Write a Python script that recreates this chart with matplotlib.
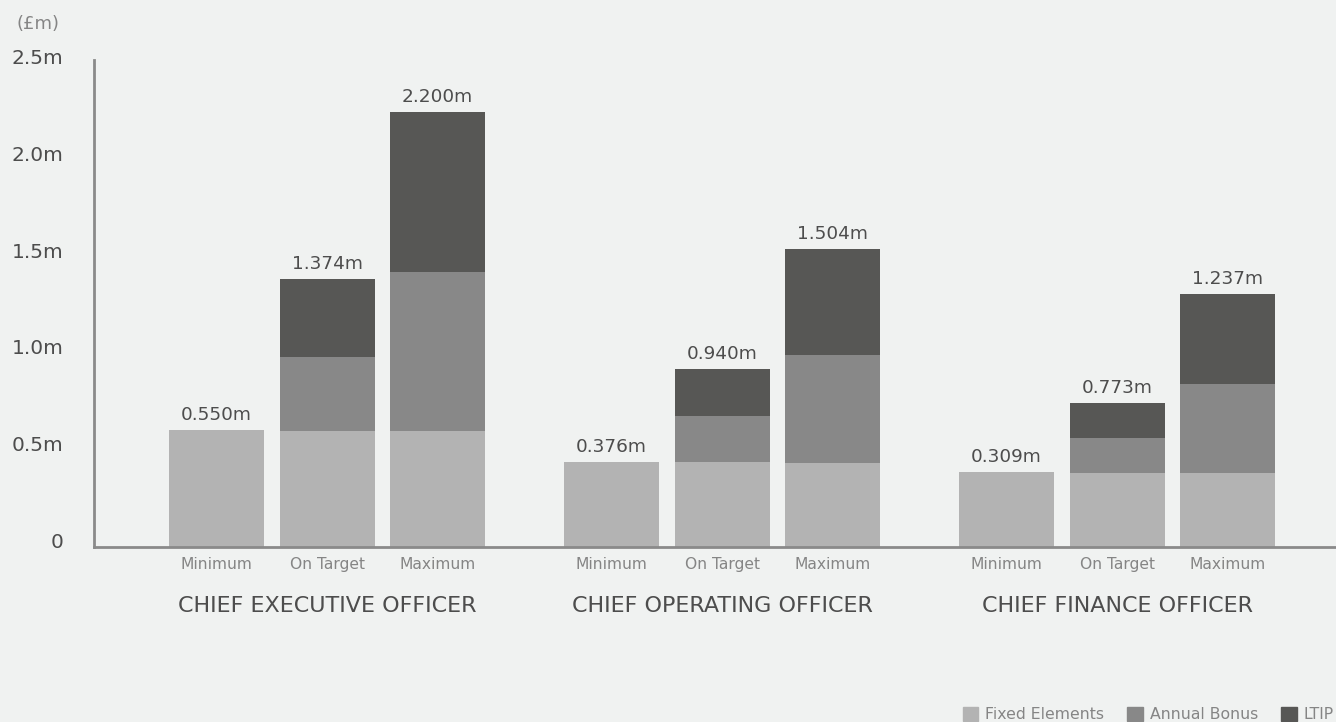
import matplotlib
matplotlib.use("Agg")
import matplotlib.pyplot as plt
import matplotlib.transforms as mtransforms
from matplotlib.patches import Patch
import numpy as np

# Values (£m) as drawn in the reference, one per bar: Minimum, On Target, Maximum
ROLES = ["CHIEF EXECUTIVE OFFICER", "CHIEF OPERATING OFFICER", "CHIEF FINANCE OFFICER"]
SCENARIOS = ["Minimum", "On Target", "Maximum"]
FIXED = [0.606, 0.600, 0.600, 0.440, 0.440, 0.435, 0.388, 0.383, 0.383]
BONUS = [0.0, 0.383, 0.823, 0.0, 0.238, 0.559, 0.0, 0.181, 0.461]
LTIP = [0.0, 0.404, 0.828, 0.0, 0.243, 0.549, 0.0, 0.181, 0.466]
TOTALS = ["0.550m", "1.374m", "2.200m", "0.376m", "0.940m", "1.504m",
          "0.309m", "0.773m", "1.237m"]
YTICKS = [0, 0.5, 1.0, 1.5, 2.0, 2.5]
YTICK_LABELS = ["0", "0.5m", "1.0m", "1.5m", "2.0m", "2.5m"]

BG = "#f0f2f1"
C_FIXED, C_BONUS, C_LTIP = "#b3b3b3", "#888888", "#575755"
DARK, GREY = "#4d4d4d", "#858585"

GROUP_STEP = 3.575
x = np.array([g * GROUP_STEP + j for g in range(3) for j in range(3)])
fixed, bonus, ltip = map(np.array, (FIXED, BONUS, LTIP))

fig = plt.figure(figsize=(13.36, 7.22), dpi=100, facecolor=BG)
ax = fig.add_axes([94 / 1336, 1 - 547 / 722, 1 - 94 / 1336, (547 - 60) / 722])
ax.set_facecolor(BG)

w = 0.86
ax.bar(x, fixed, w, color=C_FIXED, linewidth=0)
ax.bar(x, bonus, w, bottom=fixed, color=C_BONUS, linewidth=0)
ax.bar(x, ltip, w, bottom=fixed + bonus, color=C_LTIP, linewidth=0)

tops = fixed + bonus + ltip
for xi, top, lab in zip(x, tops, TOTALS):
    ax.annotate(lab, (xi, top), xytext=(0, 4.5), textcoords="offset points",
                ha="center", va="bottom", fontsize=13.3, color=DARK)

ax.set_xlim(-1.109, 10.13)
ax.set_ylim(0, 2.52)

for s in ["top", "right"]:
    ax.spines[s].set_visible(False)
for s in ["left", "bottom"]:
    ax.spines[s].set_color("#8a8a8a")
    ax.spines[s].set_linewidth(2)

ax.set_yticks(YTICKS)
ax.set_yticklabels(YTICK_LABELS, fontsize=14.5, color=DARK)
ax.tick_params(axis="y", length=0, pad=22)
offset = mtransforms.ScaledTranslation(0, 7 / 100, fig.dpi_scale_trans)
for lbl in ax.get_yticklabels():
    lbl.set_transform(lbl.get_transform() + offset)

ax.set_xticks(x)
ax.set_xticklabels(SCENARIOS * 3, fontsize=11.2, color=GREY)
ax.tick_params(axis="x", length=0, pad=7)

for g, role in enumerate(ROLES):
    ax.text(g * GROUP_STEP + 1, -0.305, role, ha="center", va="center",
            fontsize=16, color=DARK, transform=ax.transData)

fig.text(17 / 1336, 1 - 24 / 722, "(£m)", fontsize=13, color=GREY,
         ha="left", va="center")

handles = [Patch(color=C_FIXED, label="Fixed Elements"),
           Patch(color=C_BONUS, label="Annual Bonus"),
           Patch(color=C_LTIP, label="LTIP")]
fig.legend(handles=handles, loc="lower right", bbox_to_anchor=(1.009, -0.02),
           ncol=3, frameon=False, fontsize=11.3, handlelength=1.0, handleheight=1.0,
           handletextpad=0.45, columnspacing=1.45, labelcolor=GREY)

fig.savefig("out.png", dpi=100, facecolor=BG)
